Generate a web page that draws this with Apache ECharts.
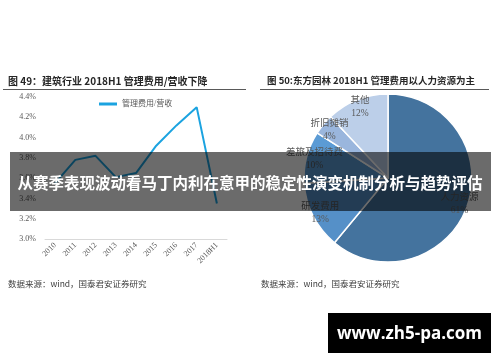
<!DOCTYPE html>
<html>
<head>
<meta charset="utf-8">
<script src="https://cdn.jsdelivr.net/npm/echarts@6/dist/echarts.min.js"></script>
<style>html,body{margin:0;padding:0;background:#fff;}#c{width:500px;height:362px;}</style>
</head>
<body>
<div id="c"></div>
<script>
// ---- data ----
var lineCategories = ['2010','2011','2012','2013','2014','2015','2016','2017','2018H1'];
var lineValues = [3.55, 3.78, 3.82, 3.61, 3.65, 3.92, 4.12, 4.30, 3.35];
var lineSeriesName = '管理费用/营收';
var yTicks = {min: 3.0, max: 4.4, step: 0.2};

var pieNames = ['人力资源','研发费用','差旅及招待费','折旧摊销','其他'];
var pieValues = [61, 13, 10, 4, 12];
var pieColors = ['#44739e','#5590c8','#5b9bd5','#9ab6dd','#bccfe9'];

var titleLeft = '图 49：建筑行业 2018H1 管理费用/营收下降';
var titleRight = '图 50:东方园林 2018H1 管理费用以人力资源为主';
var sourceText = '数据来源：wind，国泰君安证券研究';
var bannerText = '从赛季表现波动看马丁内利在意甲的稳定性演变机制分析与趋势评估';
var watermarkText = 'www.zh5-pa.com';

var serif = '"Liberation Serif","DejaVu Serif","Noto Sans CJK SC",serif';
var cjk = '"Noto Sans CJK SC","Noto Sans",sans-serif';

var pieData = pieNames.map(function(n,i){return {name:n, value:pieValues[i], itemStyle:{color:pieColors[i]}};});

var chart = echarts.init(document.getElementById('c'), null, {renderer:'canvas'});
chart.setOption({
  animation:false,
  backgroundColor:'#ffffff',
  legend:{
    left:94, top:95, itemWidth:18, itemHeight:3, icon:'rect', itemGap:2,
    data:[lineSeriesName],
    textStyle:{fontSize:8, color:'#595959', fontFamily:serif}
  },
  grid:{left:45, right:273, top:97, bottom:123, containLabel:false},
  xAxis:{
    type:'category', data:lineCategories, boundaryGap:true,
    axisLine:{show:true, lineStyle:{color:'#d9d9d9', width:1}},
    axisTick:{show:false},
    axisLabel:{rotate:45, fontSize:8, color:'#595959', fontFamily:serif, margin:5, interval:0}
  },
  yAxis:{
    type:'value', min:yTicks.min, max:yTicks.max, interval:yTicks.step,
    axisLine:{show:false}, axisTick:{show:false}, splitLine:{show:false},
    axisLabel:{fontSize:8, color:'#595959', fontFamily:serif, margin:9,
      formatter:function(v){return v.toFixed(1)+'%';}}
  },
  series:[
    {
      type:'line', name:lineSeriesName, data:lineValues, symbol:'none',
      lineStyle:{color:'#1ba3e0', width:2}, itemStyle:{color:'#1ba3e0'}, z:3
    },
    {
      type:'pie', center:[388,178], radius:[0,84], startAngle:90, clockwise:true,
      data:pieData, label:{show:false}, labelLine:{show:false},
      itemStyle:{borderColor:'#ffffff', borderWidth:1.5}, silent:true
    },
    {
      type:'pie', center:[388,178], radius:[62,84], startAngle:90, clockwise:true,
      data:pieNames.map(function(n,i){return {name:n, value:pieValues[i]};}),
      itemStyle:{color:'rgba(0,0,0,0)', borderWidth:0}, silent:true,
      label:{show:true, position:'inside', formatter:'{b}\n{c}%', fontSize:9.5, lineHeight:13,
        color:'#595959', fontFamily:serif},
      labelLine:{show:false}, z:4
    }
  ],
  graphic:[
    {type:'text', left:8, top:76, z:10, style:{text:titleLeft, font:'bold 10px '+cjk, fill:'#262626'}},
    {type:'line', z:10, shape:{x1:3,y1:89.5,x2:246,y2:89.5}, style:{stroke:'#595959', lineWidth:1}},
    {type:'text', left:267, top:76, z:10, style:{text:titleRight, font:'bold 9.5px '+cjk, fill:'#262626'}},
    {type:'line', z:10, shape:{x1:260,y1:89.5,x2:489,y2:89.5}, style:{stroke:'#595959', lineWidth:1}},
    {type:'text', left:8, top:280, z:10, style:{text:sourceText, font:'8.5px '+cjk, fill:'#404040'}},
    {type:'text', left:261, top:280, z:10, style:{text:sourceText, font:'8.5px '+cjk, fill:'#404040'}},
    {type:'rect', z:100, shape:{x:10,y:152,width:481,height:59}, style:{fill:'rgba(0,0,0,0.58)'}},
    {type:'text', z:101, x:250, y:183, style:{text:bannerText, font:'bold 15.5px '+cjk, fill:'#ffffff', textAlign:'center', textVerticalAlign:'middle'}},
    {type:'rect', z:100, shape:{x:328,y:313,width:163,height:40}, style:{fill:'#000000'}},
    {type:'text', z:101, x:409.5, y:334, style:{text:watermarkText, font:'bold 17px "Open Sans","DejaVu Sans",sans-serif', fill:'#ffffff', textAlign:'center', textVerticalAlign:'middle'}}
  ]
});
</script>
</body>
</html>
